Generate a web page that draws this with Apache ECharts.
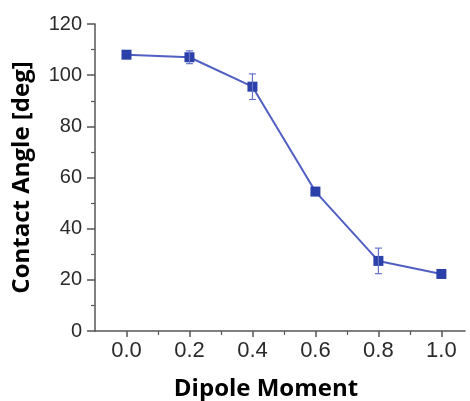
<!DOCTYPE html>
<html>
<head>
<meta charset="utf-8">
<script src="https://cdn.jsdelivr.net/npm/echarts@6/dist/echarts.min.js"></script>
<style>
  html, body { margin: 0; padding: 0; background: #fff; }
  #chart { width: 470px; height: 401px; }
</style>
</head>
<body>
<div id="chart"></div>
<script>
// Contact angle versus dipole moment, with standard-deviation error bars
const dipoleMoment = [0.0, 0.2, 0.4, 0.6, 0.8, 1.0];
const contactAngle = [108.0, 107.0, 95.5, 54.5, 27.4, 22.3];
const angleError   = [0, 2.5, 5.0, 0, 5.0, 0];

const xMajorTicks = [0.0, 0.2, 0.4, 0.6, 0.8, 1.0];
const xMinorTicks = [0.1, 0.3, 0.5, 0.7, 0.9];
const yMajorTicks = [0, 20, 40, 60, 80, 100, 120];
const yMinorTicks = [10, 30, 50, 70, 90, 110];

const lineColor = '#4f5fc2';
const markColor = '#2b40a8';
const axisColor = '#555';
const tickFont = 'Liberation Sans, Arial, sans-serif';
const titleStyle = { fontFamily: 'Open Sans, sans-serif', fontWeight: 'bold', fontSize: 24, color: '#000' };

const points = dipoleMoment.map((x, i) => [x, contactAngle[i]]);
const errRows = dipoleMoment.map((x, i) => [x, contactAngle[i] - angleError[i], contactAngle[i] + angleError[i], angleError[i]]);

const chart = echarts.init(document.getElementById('chart'), null, { renderer: 'canvas' });

const baseX = { type: 'value', min: -0.1, max: 1.075, splitLine: { show: false } };
const baseY = { type: 'value', min: 0, max: 120, splitLine: { show: false } };

chart.setOption({
  animation: false,
  grid: { left: 95, right: 5, top: 24, bottom: 70, outerBoundsMode: 'none', containLabel: false },
  xAxis: [
    Object.assign({}, baseX, {
      name: 'Dipole Moment',
      nameLocation: 'middle',
      nameGap: 46,
      nameTextStyle: Object.assign({ padding: [0, 28, 0, 0] }, titleStyle),
      axisLine: { show: true, onZero: false, lineStyle: { color: axisColor, width: 1.5 } },
      axisTick: { show: true, customValues: xMajorTicks, length: 6, lineStyle: { color: axisColor, width: 1.5 } },
      axisLabel: { customValues: xMajorTicks, margin: 9, formatter: v => v.toFixed(1),
                   fontFamily: tickFont, fontSize: 22, color: '#2a2a2a' }
    }),
    Object.assign({}, baseX, {
      position: 'bottom',
      axisLine: { show: false, onZero: false },
      axisTick: { show: true, customValues: xMinorTicks, length: 4, lineStyle: { color: axisColor, width: 1.2 } },
      axisLabel: { show: false }
    })
  ],
  yAxis: [
    Object.assign({}, baseY, {
      name: 'Contact Angle [deg]',
      nameLocation: 'middle',
      nameGap: 61,
      nameTextStyle: titleStyle,
      axisLine: { show: true, onZero: false, lineStyle: { color: axisColor, width: 1.5 } },
      axisTick: { show: true, customValues: yMajorTicks, length: 8, lineStyle: { color: axisColor, width: 1.5 } },
      axisLabel: { customValues: yMajorTicks, margin: 13, fontFamily: tickFont, fontSize: 20, color: '#2a2a2a' }
    }),
    Object.assign({}, baseY, {
      position: 'left',
      offset: 0,
      axisLine: { show: false, onZero: false },
      axisTick: { show: true, customValues: yMinorTicks, length: 4, lineStyle: { color: axisColor, width: 1.2 } },
      axisLabel: { show: false }
    })
  ],
  series: [
    {
      type: 'line',
      data: points,
      xAxisIndex: 0,
      yAxisIndex: 0,
      symbol: 'rect',
      symbolSize: 10,
      lineStyle: { color: lineColor, width: 2 },
      itemStyle: { color: markColor },
      z: 3
    },
    {
      type: 'custom',
      data: errRows,
      xAxisIndex: 0,
      yAxisIndex: 0,
      z: 4,
      renderItem: function (params, api) {
        if (api.value(3) <= 0) return null;
        const x = api.value(0);
        const lo = api.coord([x, api.value(1)]);
        const hi = api.coord([x, api.value(2)]);
        const cap = 3.5;
        const style = { stroke: '#6673c8', lineWidth: 1.2 };
        return {
          type: 'group',
          children: [
            { type: 'line', shape: { x1: lo[0], y1: lo[1], x2: hi[0], y2: hi[1] }, style: style },
            { type: 'line', shape: { x1: lo[0] - cap, y1: lo[1], x2: lo[0] + cap, y2: lo[1] }, style: style },
            { type: 'line', shape: { x1: hi[0] - cap, y1: hi[1], x2: hi[0] + cap, y2: hi[1] }, style: style }
          ]
        };
      }
    }
  ]
});
</script>
</body>
</html>
